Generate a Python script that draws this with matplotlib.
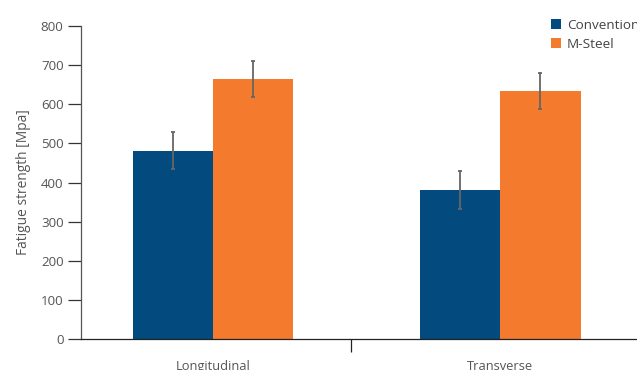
import numpy as np
import matplotlib.pyplot as plt

categories = ["Longitudinal", "Transverse"]
conventional = [481, 381]
conventional_err = [47, 48]
msteel = [665, 634]
msteel_err = [46, 46]
series_names = ["Conventional", "M-Steel"]

plt.rcParams['font.family'] = ['Open Sans', 'DejaVu Sans']
text_color = '#555555'

fig = plt.figure(figsize=(6.37, 3.70), dpi=100)
ax = fig.add_axes([0.127, 0.0838, 0.88, 0.8459])

x = np.arange(len(categories))
w = 0.279
err_kw = dict(ecolor='#666666', elinewidth=1.3, capsize=1.6, capthick=1.3)
ax.bar(x - w / 2, conventional, w, yerr=conventional_err, color='#034a7e',
       label=series_names[0], error_kw=err_kw)
ax.bar(x + w / 2, msteel, w, yerr=msteel_err, color='#f47a2e',
       label=series_names[1], error_kw=err_kw)

ax.set_xlim(-0.46, 1.491)
ax.set_ylim(0, 800)
ax.set_yticks(range(0, 801, 100))
ax.set_xticks(x)
ax.set_xticklabels(categories)
ax.tick_params(axis='x', length=0, pad=15, labelsize=9.3, colors=text_color)
ax.set_xticks([0.481], minor=True)
ax.tick_params(axis='x', which='minor', length=9, width=0.9, color='#222222')
ax.tick_params(axis='y', length=9.5, width=0.9, color='#333333',
               labelsize=9.6, labelcolor=text_color, pad=3)
ax.set_ylabel("Fatigue strength [Mpa]", fontsize=9.9, color=text_color, labelpad=7)

for s in ['top', 'right']:
    ax.spines[s].set_visible(False)
ax.spines['left'].set_color('#555555')
ax.spines['left'].set_linewidth(0.9)
ax.spines['bottom'].set_color('#222222')
ax.spines['bottom'].set_linewidth(0.9)

leg = ax.legend(loc='upper left', bbox_to_anchor=(0.855, 0.968),
                bbox_transform=fig.transFigure, frameon=False,
                fontsize=9.7, handlelength=0.75, handleheight=0.75,
                handletextpad=0.4, labelspacing=0.45, borderpad=0)
for t in leg.get_texts():
    t.set_color('#444444')

fig.savefig("out.png", dpi=100)
